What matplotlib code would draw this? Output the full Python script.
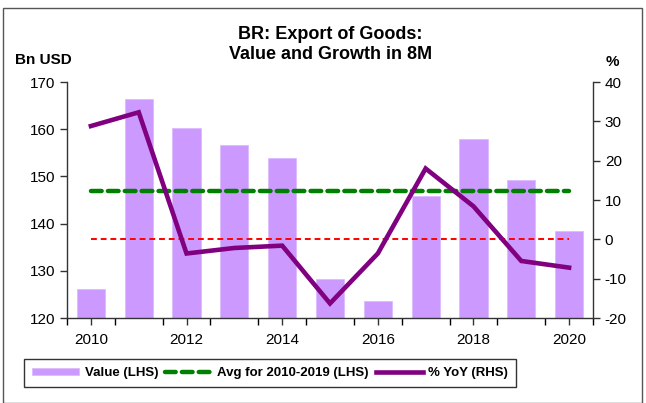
import matplotlib
matplotlib.use("Agg")
import matplotlib.pyplot as plt
from matplotlib.patches import Rectangle
import numpy as np

years = [2010, 2011, 2012, 2013, 2014, 2015, 2016, 2017, 2018, 2019, 2020]
value_bn = [126.1, 166.5, 160.3, 156.6, 154.0, 128.3, 123.6, 145.9, 157.9, 149.2, 138.4]
yoy_pct = [28.8, 32.3, -3.6, -2.2, -1.6, -16.3, -3.6, 18.0, 8.4, -5.5, -7.2]
avg_2010_2019 = 146.9
zero_line = 0.0

plt.rcParams["font.family"] = ["Liberation Sans", "DejaVu Sans"]
plt.rcParams["axes.unicode_minus"] = False

fig = plt.figure(figsize=(6.46, 4.03), dpi=100)
fig.patches.append(Rectangle((3 / 646, 0), 639 / 646, 395 / 403, transform=fig.transFigure,
                             fill=False, edgecolor="#555555", linewidth=1.0))

ax = fig.add_axes([67 / 646, 85 / 403, 526 / 646, 236 / 403])
x = np.arange(len(years))

bars = ax.bar(x, value_bn, width=0.59, color="#CC99FF", edgecolor="#DDBBFF", linewidth=0.6,
              label="Value (LHS)", zorder=2)
avg_line, = ax.plot([x[0], x[-1]], [avg_2010_2019, avg_2010_2019], color="#008000", lw=3.2,
                    ls=(0, (2.4, 1.4)), dash_capstyle="round",
                    label="Avg for 2010-2019 (LHS)", zorder=3)
ax.set_xlim(-0.5, len(years) - 0.5)
ax.set_ylim(120, 170)
ax.set_yticks(range(120, 171, 10))

ax2 = ax.twinx()
ax2.plot([x[0], x[-1]], [zero_line, zero_line], color="#FF0000", lw=1.4, ls=(0, (3, 2)), zorder=3)
yoy_line, = ax2.plot(x, yoy_pct, color="#800080", lw=3.3, label="% YoY (RHS)", zorder=4,
                     solid_joinstyle="miter")
ax2.set_ylim(-20, 40)
ax2.set_yticks(range(-20, 41, 10))

ax.set_xticks(x[::2])
ax.set_xticklabels([str(y) for y in years[::2]])
ax.set_xticks(np.arange(-0.5, len(years), 1), minor=True)
ax.tick_params(axis="x", which="major", length=0, pad=6)
ax.tick_params(axis="x", which="minor", length=5, width=1)

for a in (ax, ax2):
    a.patch.set_visible(False)
    for s in a.spines.values():
        s.set_visible(False)
    a.tick_params(labelsize=11, width=1, length=5, color="#333333")
ax.set_zorder(1)
ax2.set_zorder(2)
ax.spines["left"].set_visible(True)
ax.spines["bottom"].set_visible(True)
ax2.spines["right"].set_visible(True)
for s in (ax.spines["left"], ax.spines["bottom"], ax2.spines["right"]):
    s.set_color("#333333")
    s.set_linewidth(1)

fig.text(0.511, 1 - 44.5 / 403, "BR: Export of Goods:\nValue and Growth in 8M", ha="center",
         va="center", fontsize=13, fontweight="bold", linespacing=1.3)
fig.text(15 / 646, 1 - 60 / 403, "Bn USD", ha="left", va="center", fontsize=11, fontweight="bold")
fig.text(612 / 646, 1 - 62 / 403, "%", ha="center", va="center", fontsize=11, fontweight="bold")

leg = fig.legend([bars, avg_line, yoy_line],
                 ["Value (LHS)", "Avg for 2010-2019 (LHS)", "% YoY (RHS)"],
                 loc="center", bbox_to_anchor=(270 / 646, 1 - 373 / 403),
                 ncol=3, frameon=True, fancybox=False, edgecolor="black",
                 handlelength=3.6, handleheight=0.45, handletextpad=0.4, columnspacing=0.5,
                 borderpad=0.6, prop={"weight": "bold", "size": 9.5})
leg.get_frame().set_linewidth(1.0)

fig.savefig("out.png", dpi=100)
